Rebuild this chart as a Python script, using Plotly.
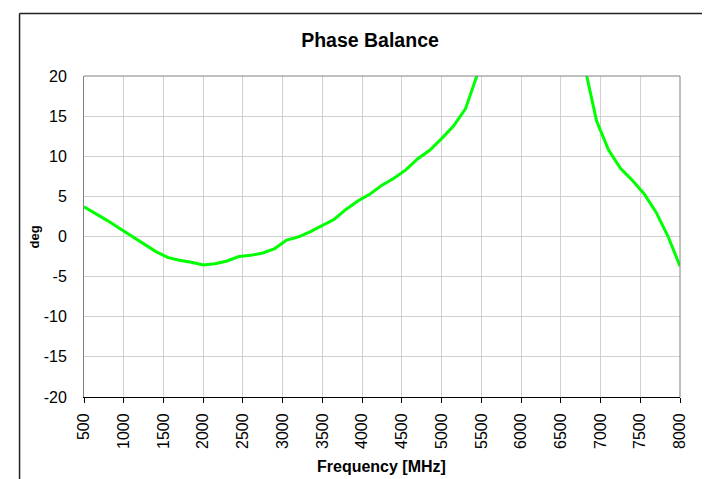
import plotly.graph_objects as go

# Data
freq_left = [500, 650, 800, 950, 1100, 1250, 1400, 1550, 1700, 1850, 2000, 2150, 2300,
             2450, 2600, 2750, 2900, 3050, 3200, 3350, 3500, 3650, 3800, 3950, 4100,
             4250, 4400, 4550, 4700, 4850, 5000, 5150, 5300, 5450, 5600]
phase_left = [3.7, 2.85, 1.95, 1.0, 0.05, -0.95, -1.85, -2.6, -2.95, -3.2, -3.55, -3.4, -3.05,
              -2.5, -2.35, -2.05, -1.5, -0.45, -0.05, 0.6, 1.4, 2.15, 3.4, 4.45, 5.3,
              6.4, 7.25, 8.3, 9.7, 10.75, 12.2, 13.75, 15.9, 20.2, 27.0]
freq_right = [6650, 6800, 6950, 7100, 7250, 7400, 7550, 7700, 7850, 8000]
phase_right = [30.0, 21.2, 14.4, 10.8, 8.5, 7.0, 5.3, 3.0, 0.0, -3.7]

x_ticks = list(range(500, 8001, 500))
y_ticks = list(range(-20, 21, 5))

W, H = 710, 479
L, R, T, B = 75.5, 38, 68, 90
PW = W - L - R
PH = H - T - B

freqs = freq_left + [None] + freq_right
phases = phase_left + [None] + phase_right

fig = go.Figure()
fig.add_trace(go.Scatter(x=freqs, y=phases, mode="lines",
                         line=dict(color="#00ff00", width=3), connectgaps=False,
                         showlegend=False, hoverinfo="skip"))

font = "Liberation Sans, Arial, sans-serif"

fig.update_layout(
    width=W, height=H,
    margin=dict(l=L, r=R, t=T, b=B, autoexpand=False),
    paper_bgcolor="white", plot_bgcolor="white",
    font=dict(family=font, color="black", size=16),
    title=dict(text="<b>Phase Balance</b>", x=362 / W, xref="container", xanchor="center",
               y=1 - 32 / H, yref="container", yanchor="middle",
               font=dict(family=font, size=19.5, color="black")),
    showlegend=False,
)

fig.update_xaxes(range=[500, 8000], tickvals=x_ticks, ticktext=[str(v) for v in x_ticks],
                 tickangle=-90, showgrid=True, gridcolor="#d0d0d0", gridwidth=1,
                 showline=True, linecolor="black", linewidth=1, mirror=False,
                 ticks="outside", ticklen=5, tickcolor="black", tickwidth=1,
                 ticklabelstandoff=4, zeroline=False,
                 tickfont=dict(family=font, size=16, color="black"))
fig.update_yaxes(range=[-20, 20], tickvals=y_ticks, ticktext=[str(v) for v in y_ticks],
                 showgrid=True, gridcolor="#d0d0d0", gridwidth=1,
                 showline=True, linecolor="#808080", linewidth=1, mirror=False,
                 ticks="", ticklabelstandoff=13, zeroline=False,
                 tickfont=dict(family=font, size=16, color="black"))

# plot frame top and right (gray)
fig.add_shape(type="line", xref="paper", yref="paper", x0=0, x1=1, y0=1, y1=1,
              line=dict(color="#808080", width=1))
fig.add_shape(type="line", xref="paper", yref="paper", x0=1, x1=1, y0=0, y1=1,
              line=dict(color="#808080", width=1))

# outer chart border (left & top visible)
def px_to_paper_x(px):
    return (px - L) / PW

def py_to_paper_y(py):
    return (H - B - py) / PH

fig.add_shape(type="line", xref="paper", yref="paper",
              x0=px_to_paper_x(11), x1=px_to_paper_x(11),
              y0=py_to_paper_y(5.5), y1=py_to_paper_y(485),
              line=dict(color="#222222", width=1.5))
fig.add_shape(type="line", xref="paper", yref="paper",
              x0=px_to_paper_x(11), x1=px_to_paper_x(720),
              y0=py_to_paper_y(5.5), y1=py_to_paper_y(5.5),
              line=dict(color="#222222", width=1.5))

# axis titles
fig.add_annotation(text="<b>Frequency [MHz]</b>", xref="paper", yref="paper",
                   x=px_to_paper_x(373), y=py_to_paper_y(458), xanchor="center", yanchor="middle",
                   showarrow=False, font=dict(family=font, size=16, color="black"))
fig.add_annotation(text="<b>deg</b>", xref="paper", yref="paper",
                   x=px_to_paper_x(26), y=py_to_paper_y(229), xanchor="center", yanchor="middle",
                   textangle=-90, showarrow=False, font=dict(family=font, size=13, color="black"))

fig.write_html("out.html")
